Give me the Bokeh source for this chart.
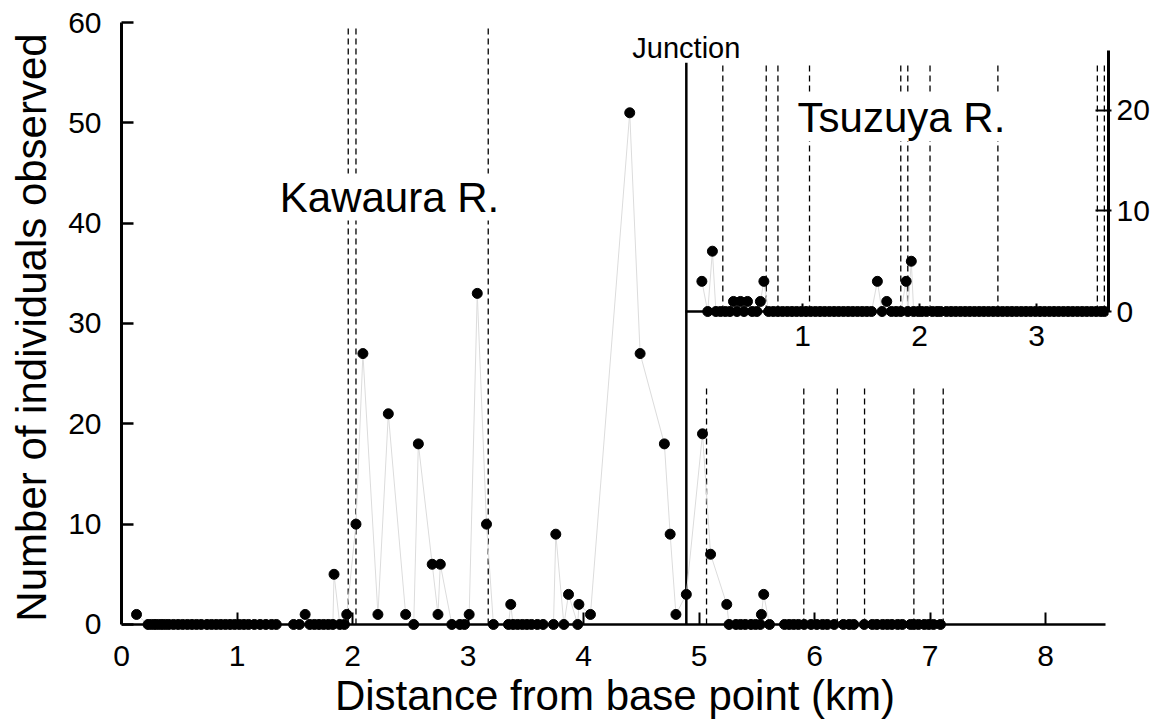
from bokeh.plotting import figure
from bokeh.models import Range1d, LinearAxis, FixedTicker, Label
from bokeh.embed import file_html
from bokeh.resources import INLINE

FONT = "Liberation Sans"

# ---- Data ----
# Main river: distance from base point (km) and number of individuals observed
main_km = [0.13, 0.23, 0.26, 0.29, 0.32, 0.35, 0.38, 0.41, 0.45, 0.49, 0.53, 0.57, 0.61,
           0.65, 0.69, 0.74, 0.78, 0.82, 0.86, 0.90, 0.94, 0.98, 1.02, 1.06, 1.10, 1.15,
           1.20, 1.25, 1.30, 1.34, 1.49, 1.54, 1.59, 1.63, 1.67, 1.71, 1.75, 1.79, 1.83,
           1.84, 1.89, 1.93, 1.95, 2.03, 2.09, 2.22, 2.31, 2.46, 2.53, 2.57, 2.69, 2.74,
           2.76, 2.86, 2.93, 2.97, 3.01, 3.08, 3.16, 3.22, 3.35, 3.37, 3.39, 3.43, 3.47,
           3.51, 3.55, 3.60, 3.65, 3.74, 3.76, 3.83, 3.87, 3.95, 3.96, 4.06, 4.40, 4.49,
           4.70, 4.75, 4.80, 4.89, 5.03, 5.10, 5.24, 5.26, 5.32, 5.36, 5.40, 5.45, 5.49,
           5.53, 5.54, 5.56, 5.61, 5.74, 5.78, 5.82, 5.86, 5.91, 5.97, 6.02, 6.07, 6.11,
           6.17, 6.25, 6.30, 6.34, 6.43, 6.50, 6.54, 6.59, 6.63, 6.67, 6.72, 6.76, 6.83,
           6.86, 6.90, 6.95, 6.99, 7.03, 7.09]
main_n = [1, 0, 0, 0, 0, 0, 0, 0, 0, 0, 0, 0, 0,
          0, 0, 0, 0, 0, 0, 0, 0, 0, 0, 0, 0, 0,
          0, 0, 0, 0, 0, 0, 1, 0, 0, 0, 0, 0, 0,
          5, 0, 0, 1, 10, 27, 1, 21, 1, 0, 18, 6, 1,
          6, 0, 0, 0, 1, 33, 10, 0, 0, 2, 0, 0, 0,
          0, 0, 0, 0, 0, 9, 0, 3, 0, 2, 1, 51, 27,
          18, 9, 1, 3, 19, 7, 2, 0, 0, 0, 0, 0, 0,
          0, 1, 3, 0, 0, 0, 0, 0, 0, 0, 0, 0, 0,
          0, 0, 0, 0, 0, 0, 0, 0, 0, 0, 0, 0, 0,
          0, 0, 0, 0, 0, 0]

# Tsuzuya R. (inset): distance from the junction (km) and number observed
tsu_km = [0.14, 0.19, 0.23, 0.26, 0.30, 0.34, 0.38, 0.41, 0.44, 0.47, 0.50, 0.53, 0.57,
          0.61, 0.64, 0.67, 0.71, 0.75, 0.79, 0.83, 0.87, 0.91, 0.95, 0.99, 1.03, 1.07,
          1.11, 1.15, 1.19, 1.23, 1.27, 1.31, 1.35, 1.39, 1.43, 1.47, 1.51, 1.55, 1.59,
          1.64, 1.68, 1.72, 1.76, 1.80, 1.84, 1.886, 1.90, 1.93, 1.95, 1.99, 2.02, 2.06,
          2.11, 2.15, 2.18, 2.23, 2.27, 2.31, 2.35, 2.39, 2.43, 2.47, 2.51, 2.55, 2.59,
          2.63, 2.67, 2.71, 2.75, 2.79, 2.83, 2.87, 2.91, 2.95, 2.99, 3.03, 3.07, 3.11,
          3.15, 3.19, 3.23, 3.27, 3.31, 3.35, 3.39, 3.43, 3.47, 3.51, 3.55, 3.58]
tsu_n = [3, 0, 6, 0, 0, 0, 0, 1, 0, 1, 0, 1, 0,
         0, 1, 3, 0, 0, 0, 0, 0, 0, 0, 0, 0, 0,
         0, 0, 0, 0, 0, 0, 0, 0, 0, 0, 0, 0, 0,
         3, 0, 1, 0, 0, 0, 3, 0, 5, 0, 0, 0, 0,
         0, 0, 0, 0, 0, 0, 0, 0, 0, 0, 0, 0, 0,
         0, 0, 0, 0, 0, 0, 0, 0, 0, 0, 0, 0, 0,
         0, 0, 0, 0, 0, 0, 0, 0, 0, 0, 0, 0]

# Dashed reference lines (km)
kawaura_dashes = [1.963, 2.03, 3.175]
kawaura_dash_top = 59.5
downstream_dashes = [5.065, 5.907, 6.197, 6.433, 6.86, 7.114]
downstream_dash_top = 23.6
tsuzuya_dashes = [0.319, 0.69, 0.79, 1.06, 1.84, 1.90, 2.09, 2.67, 3.52, 3.58]
tsuzuya_dash_top = 24.8

junction_km = 4.89
junction_top = 56.0

main_xticks = [0, 1, 2, 3, 4, 5, 6, 7, 8]
main_yticks = [0, 10, 20, 30, 40, 50, 60]
inset_xticks = [1, 2, 3]
inset_yticks = [0, 10, 20]

# ---- Figure ----
p = figure(width=1154, height=727,
           x_range=Range1d(0, 8.545), y_range=Range1d(-0.8, 60),
           x_axis_type=None, y_axis_type=None,
           output_backend="svg", toolbar_location=None,
           min_border_left=121, min_border_right=46,
           min_border_top=22, min_border_bottom=95)
p.extra_x_ranges = {"ix": Range1d(-4.8205, 3.6154)}
p.extra_y_ranges = {"iy": Range1d(-31.94, 28.756)}
p.xgrid.visible = False
p.ygrid.visible = False
p.outline_line_color = None
p.background_fill_color = "white"
p.border_fill_color = "white"

DASH = "6 4"

# dashed lines
p.segment(x0=kawaura_dashes, y0=0, x1=kawaura_dashes, y1=kawaura_dash_top,
          line_color="black", line_width=1.3, line_dash=DASH)
p.segment(x0=downstream_dashes, y0=0, x1=downstream_dashes, y1=downstream_dash_top,
          line_color="black", line_width=1.3, line_dash=DASH)
p.segment(x0=tsuzuya_dashes, y0=0, x1=tsuzuya_dashes, y1=tsuzuya_dash_top,
          line_color="black", line_width=1.3, line_dash=DASH,
          x_range_name="ix", y_range_name="iy")

# junction line
p.segment(x0=[junction_km], y0=[0], x1=[junction_km], y1=[junction_top],
          line_color="black", line_width=2.5)

# faint connecting lines
p.line(main_km, main_n, line_color="#dcdcdc", line_width=1)
p.line(tsu_km, tsu_n, line_color="#dcdcdc", line_width=1,
       x_range_name="ix", y_range_name="iy")

# points
p.scatter(main_km, main_n, size=10, color="black")
p.scatter(tsu_km, tsu_n, size=10, color="black",
          x_range_name="ix", y_range_name="iy")

# ---- Axes ----
def style(ax, size="30px"):
    ax.major_label_text_font = FONT
    ax.major_label_text_font_size = size
    ax.major_label_text_color = "black"
    ax.axis_line_color = "black"
    ax.major_tick_line_color = "black"
    ax.minor_tick_line_color = None

ya = LinearAxis(ticker=FixedTicker(ticks=main_yticks), bounds=(0, 60),
                axis_label="Number of individuals observed")
style(ya)
ya.axis_line_width = 3
ya.major_tick_line_width = 2.5
ya.major_tick_in = 12
ya.major_tick_out = 0
ya.major_label_standoff = 20
ya.axis_label_text_font = FONT
ya.axis_label_text_font_size = "42px"
ya.axis_label_text_font_style = "normal"
ya.axis_label_text_color = "black"
ya.axis_label_standoff = 10
p.add_layout(ya, "left")

# x axis line and ticks drawn at y = 0
xa = LinearAxis(ticker=FixedTicker(ticks=main_xticks), bounds=(0, 8.52), fixed_location=0)
style(xa)
xa.axis_line_width = 2.5
xa.major_tick_line_width = 2
xa.major_tick_in = 12
xa.major_tick_out = 0
xa.major_label_text_color = None
p.add_layout(xa, "below")

# x tick labels and axis title
xl = LinearAxis(ticker=FixedTicker(ticks=main_xticks), bounds=(0, 8),
                axis_label="Distance from base point (km)")
style(xl)
xl.axis_line_color = None
xl.major_tick_line_color = None
xl.major_tick_in = 0
xl.major_tick_out = 0
xl.major_label_standoff = 13
xl.axis_label_text_font = FONT
xl.axis_label_text_font_size = "42px"
xl.axis_label_text_font_style = "normal"
xl.axis_label_text_color = "black"
xl.axis_label_standoff = 3
p.add_layout(xl, "below")

ixa = LinearAxis(ticker=FixedTicker(ticks=inset_xticks), bounds=(0, 3.615),
                 x_range_name="ix", y_range_name="iy", fixed_location=0)
style(ixa)
ixa.axis_line_width = 2.5
ixa.major_tick_line_width = 2
ixa.major_tick_in = 8
ixa.major_tick_out = 0
ixa.major_label_standoff = 14
p.add_layout(ixa, "below")

iya = LinearAxis(ticker=FixedTicker(ticks=inset_yticks), bounds=(0, 26),
                 y_range_name="iy")
style(iya)
iya.axis_line_width = 3
iya.major_tick_line_width = 2
iya.major_tick_in = 13
iya.major_tick_out = 3
iya.major_label_standoff = 5
p.add_layout(iya, "right")

# ---- Labels ----
p.add_layout(Label(x=2.32, y=42.6, text="Kawaura R.", text_align="center",
                   text_baseline="alphabetic", text_font=FONT, text_font_size="42px",
                   text_color="black", background_fill_color="white"))
p.add_layout(Label(x=1.846, y=19.3, text="Tsuzuya R.", text_align="center",
                   text_baseline="alphabetic", text_font=FONT, text_font_size="42px",
                   text_color="black", background_fill_color="white",
                   x_range_name="ix", y_range_name="iy"))
p.add_layout(Label(x=junction_km, y=57.5, text="Junction", text_align="center",
                   text_baseline="alphabetic", text_font=FONT, text_font_size="29px",
                   text_color="black"))

open("out.html", "w").write(file_html(p, INLINE))
